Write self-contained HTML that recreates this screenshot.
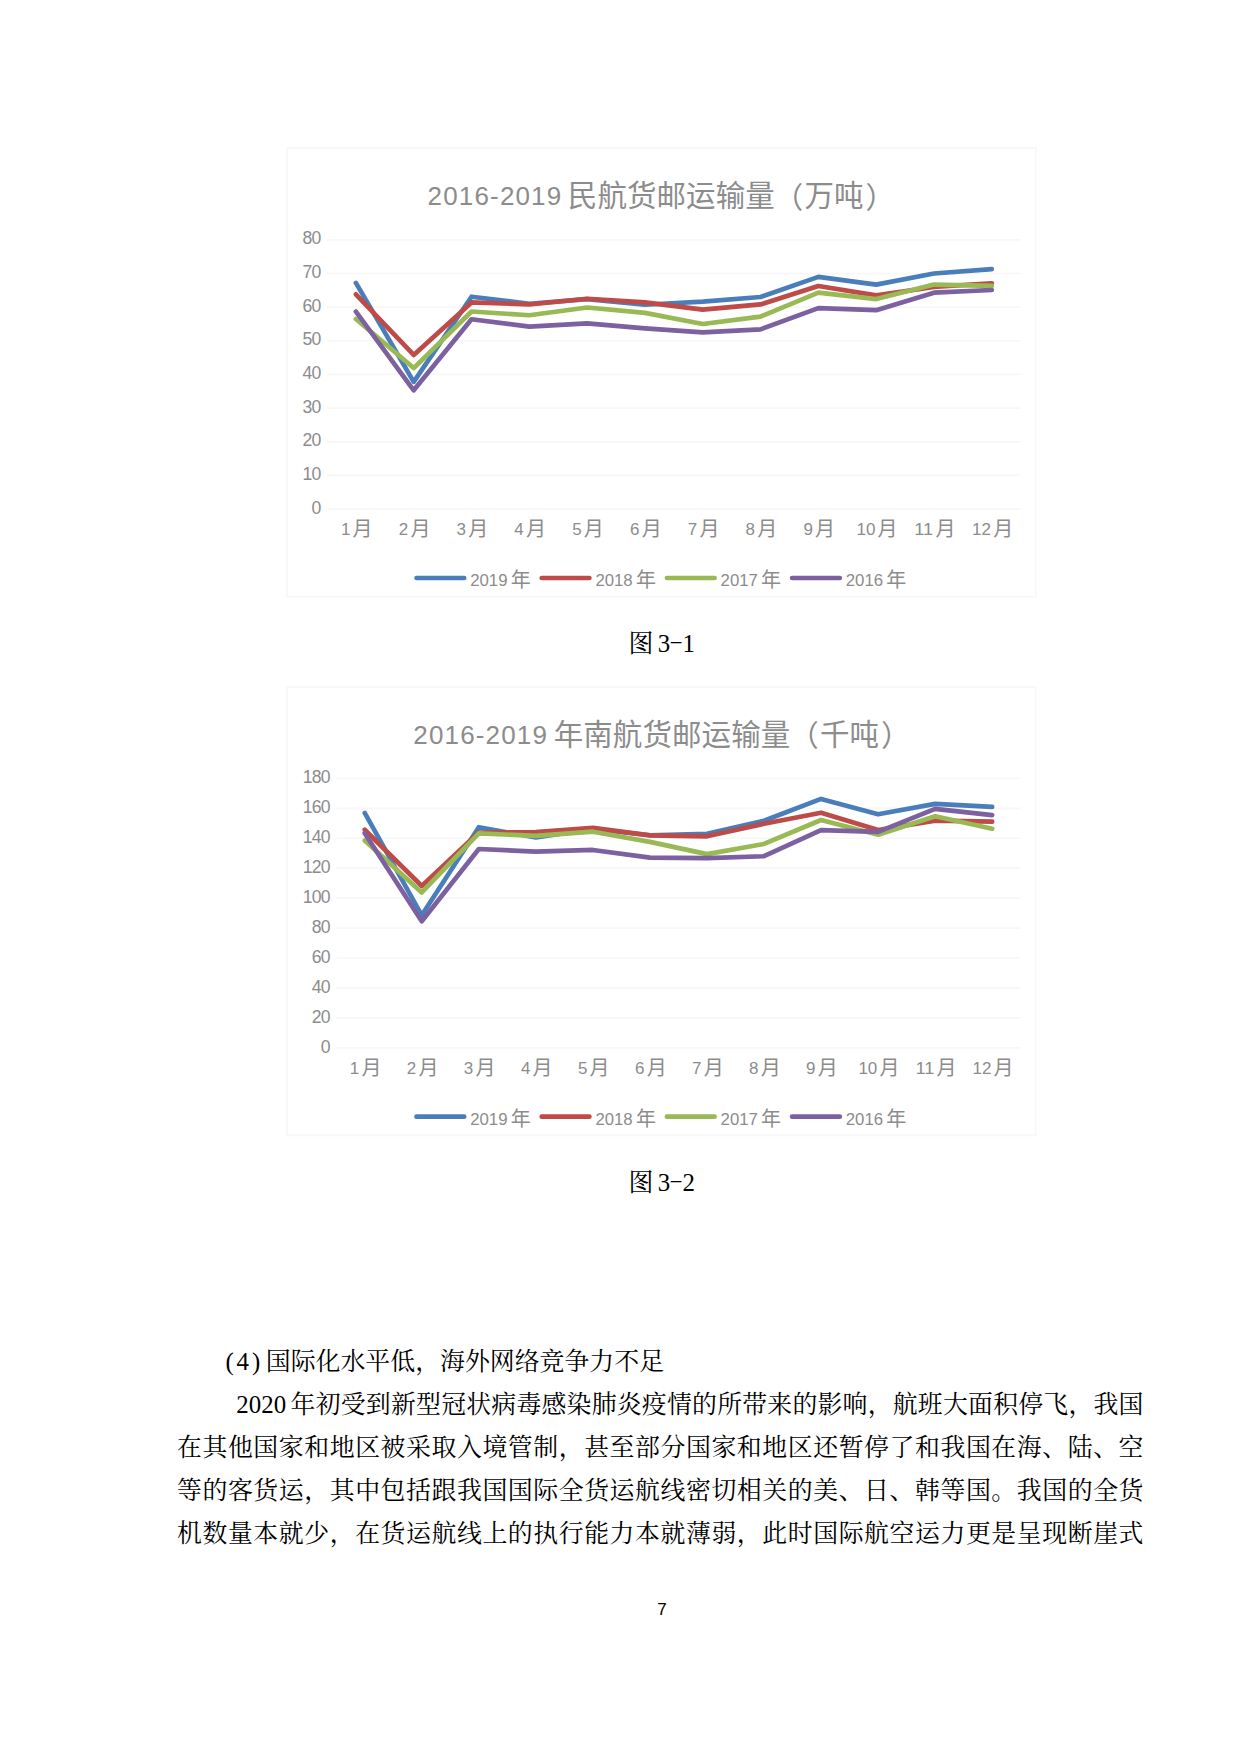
<!DOCTYPE html>
<html lang="zh-CN">
<head>
<meta charset="utf-8">
<title>2016-2019 民航货邮运输量</title>
<style>
html,body{margin:0;padding:0;background:#fff;}
body{width:1234px;height:1748px;position:relative;overflow:hidden;}
svg{position:absolute;left:0;top:0;}
.ax{font-family:"Liberation Sans", "Noto Sans CJK SC", sans-serif;font-size:17px;fill:#8c8c8c;}
.ay{letter-spacing:-0.8px;font-size:17.6px;}
.cj{font-family:"Liberation Sans", "Noto Sans CJK SC", sans-serif;font-size:20px;fill:#8c8c8c;}
.tl{font-family:"Liberation Sans", "Noto Sans CJK SC", sans-serif;font-size:26px;fill:#8c8c8c;}
.tc{font-family:"Liberation Sans", "Noto Sans CJK SC", sans-serif;font-size:29.5px;fill:#8c8c8c;}
.ln{position:absolute;height:40px;line-height:40px;font-family:"Liberation Serif", "Noto Serif CJK SC", serif;font-size:24.9px;color:#000;white-space:nowrap;}
.j{text-align:justify;text-align-last:justify;white-space:normal;}
.sp{display:inline-block;width:4.2px;white-space:pre;}
.hy{display:inline-block;width:12.45px;text-align:center;transform:translateY(-2.4px) scale(1.65,0.6);}
.hd{display:inline-block;width:40.4px;letter-spacing:2.9px;white-space:pre;}
.yr{display:inline-block;width:54.1px;white-space:pre;}
.pg{position:absolute;left:640px;width:44px;text-align:center;top:1595px;height:30px;line-height:30px;font-family:"Liberation Sans", "Noto Sans CJK SC", sans-serif;font-size:17px;color:#000;}
</style>
</head>
<body>
<svg width="1234" height="640" viewBox="0 0 1234 640" style="top:0">
<rect x="287.0" y="148.1" width="748.7" height="448.6" fill="#fff" stroke="#f8f8f8" stroke-width="2"/>
<line x1="327.0" y1="509.10" x2="1020.7" y2="509.10" stroke="#f7f7f7" stroke-width="1.7"/>
<line x1="327.0" y1="475.44" x2="1020.7" y2="475.44" stroke="#f7f7f7" stroke-width="1.7"/>
<line x1="327.0" y1="441.78" x2="1020.7" y2="441.78" stroke="#f7f7f7" stroke-width="1.7"/>
<line x1="327.0" y1="408.12" x2="1020.7" y2="408.12" stroke="#f7f7f7" stroke-width="1.7"/>
<line x1="327.0" y1="374.46" x2="1020.7" y2="374.46" stroke="#f7f7f7" stroke-width="1.7"/>
<line x1="327.0" y1="340.80" x2="1020.7" y2="340.80" stroke="#f7f7f7" stroke-width="1.7"/>
<line x1="327.0" y1="307.14" x2="1020.7" y2="307.14" stroke="#f7f7f7" stroke-width="1.7"/>
<line x1="327.0" y1="273.48" x2="1020.7" y2="273.48" stroke="#f7f7f7" stroke-width="1.7"/>
<line x1="327.0" y1="239.82" x2="1020.7" y2="239.82" stroke="#f7f7f7" stroke-width="1.7"/>
<text class="ax ay" x="320.6" y="513.60" text-anchor="end">0</text>
<text class="ax ay" x="320.6" y="479.94" text-anchor="end">10</text>
<text class="ax ay" x="320.6" y="446.28" text-anchor="end">20</text>
<text class="ax ay" x="320.6" y="412.62" text-anchor="end">30</text>
<text class="ax ay" x="320.6" y="378.96" text-anchor="end">40</text>
<text class="ax ay" x="320.6" y="345.30" text-anchor="end">50</text>
<text class="ax ay" x="320.6" y="311.64" text-anchor="end">60</text>
<text class="ax ay" x="320.6" y="277.98" text-anchor="end">70</text>
<text class="ax ay" x="320.6" y="244.32" text-anchor="end">80</text>
<text><tspan class="ax" x="340.94" y="535.30" textLength="9.46" lengthAdjust="spacingAndGlyphs">1</tspan><tspan class="cj" x="352.60" y="536.40">月</tspan></text>
<text><tspan class="ax" x="398.75" y="535.30" textLength="9.46" lengthAdjust="spacingAndGlyphs">2</tspan><tspan class="cj" x="410.41" y="536.40">月</tspan></text>
<text><tspan class="ax" x="456.56" y="535.30" textLength="9.46" lengthAdjust="spacingAndGlyphs">3</tspan><tspan class="cj" x="468.22" y="536.40">月</tspan></text>
<text><tspan class="ax" x="514.37" y="535.30" textLength="9.46" lengthAdjust="spacingAndGlyphs">4</tspan><tspan class="cj" x="526.03" y="536.40">月</tspan></text>
<text><tspan class="ax" x="572.18" y="535.30" textLength="9.46" lengthAdjust="spacingAndGlyphs">5</tspan><tspan class="cj" x="583.84" y="536.40">月</tspan></text>
<text><tspan class="ax" x="629.99" y="535.30" textLength="9.46" lengthAdjust="spacingAndGlyphs">6</tspan><tspan class="cj" x="641.65" y="536.40">月</tspan></text>
<text><tspan class="ax" x="687.79" y="535.30" textLength="9.46" lengthAdjust="spacingAndGlyphs">7</tspan><tspan class="cj" x="699.45" y="536.40">月</tspan></text>
<text><tspan class="ax" x="745.60" y="535.30" textLength="9.46" lengthAdjust="spacingAndGlyphs">8</tspan><tspan class="cj" x="757.26" y="536.40">月</tspan></text>
<text><tspan class="ax" x="803.41" y="535.30" textLength="9.46" lengthAdjust="spacingAndGlyphs">9</tspan><tspan class="cj" x="815.07" y="536.40">月</tspan></text>
<text><tspan class="ax" x="856.49" y="535.30" textLength="18.92" lengthAdjust="spacingAndGlyphs">10</tspan><tspan class="cj" x="877.61" y="536.40">月</tspan></text>
<text><tspan class="ax" x="914.30" y="535.30" textLength="18.92" lengthAdjust="spacingAndGlyphs">11</tspan><tspan class="cj" x="935.42" y="536.40">月</tspan></text>
<text><tspan class="ax" x="972.11" y="535.30" textLength="18.92" lengthAdjust="spacingAndGlyphs">12</tspan><tspan class="cj" x="993.23" y="536.40">月</tspan></text>
<polyline points="355.90,282.90 413.71,381.87 471.52,296.71 529.33,303.77 587.14,299.06 644.95,304.78 702.75,301.59 760.56,297.04 818.37,276.85 876.18,284.59 933.99,273.48 991.80,269.10" fill="none" stroke="#4a7ebb" stroke-width="4.67" stroke-linecap="round" stroke-linejoin="round"/>
<polyline points="355.90,294.35 413.71,354.94 471.52,302.43 529.33,304.45 587.14,298.73 644.95,302.43 702.75,309.66 760.56,304.45 818.37,285.93 876.18,295.36 933.99,286.94 991.80,283.24" fill="none" stroke="#be4b48" stroke-width="4.67" stroke-linecap="round" stroke-linejoin="round"/>
<polyline points="355.90,318.92 413.71,368.06 471.52,311.52 529.33,315.22 587.14,307.48 644.95,312.86 702.75,323.97 760.56,316.56 818.37,292.67 876.18,299.06 933.99,284.59 991.80,285.93" fill="none" stroke="#98b954" stroke-width="4.67" stroke-linecap="round" stroke-linejoin="round"/>
<polyline points="355.90,311.52 413.71,390.28 471.52,319.26 529.33,326.66 587.14,323.30 644.95,328.35 702.75,332.39 760.56,329.36 818.37,308.15 876.18,310.17 933.99,292.67 991.80,289.97" fill="none" stroke="#7d60a0" stroke-width="4.67" stroke-linecap="round" stroke-linejoin="round"/>
<text><tspan class="tl" x="427.6" y="205.0" textLength="133.6" lengthAdjust="spacing">2016-2019</tspan><tspan class="tl"> </tspan><tspan class="tc" x="567.80 597.38 626.96 656.54 686.12 715.70 745.28 773.66 804.44 834.02 865.40" y="206.4 206.4 206.4 206.4 206.4 206.4 206.4 207.6 206.4 206.4 207.6">民航货邮运输量（万吨）</tspan></text>
<line x1="416.5" y1="578.0" x2="464.2" y2="578.0" stroke="#4a7ebb" stroke-width="4.67" stroke-linecap="round"/>
<text><tspan class="ax" x="470.2" y="585.8" textLength="37.3" lengthAdjust="spacingAndGlyphs">2019</tspan><tspan class="cj" x="510.7" y="586.8">年</tspan></text>
<line x1="541.7" y1="578.0" x2="589.4" y2="578.0" stroke="#be4b48" stroke-width="4.67" stroke-linecap="round"/>
<text><tspan class="ax" x="595.4" y="585.8" textLength="37.3" lengthAdjust="spacingAndGlyphs">2018</tspan><tspan class="cj" x="635.9" y="586.8">年</tspan></text>
<line x1="666.9" y1="578.0" x2="714.6" y2="578.0" stroke="#98b954" stroke-width="4.67" stroke-linecap="round"/>
<text><tspan class="ax" x="720.6" y="585.8" textLength="37.3" lengthAdjust="spacingAndGlyphs">2017</tspan><tspan class="cj" x="761.1" y="586.8">年</tspan></text>
<line x1="792.1" y1="578.0" x2="839.8" y2="578.0" stroke="#7d60a0" stroke-width="4.67" stroke-linecap="round"/>
<text><tspan class="ax" x="845.8" y="585.8" textLength="37.3" lengthAdjust="spacingAndGlyphs">2016</tspan><tspan class="cj" x="886.3" y="586.8">年</tspan></text>
</svg>
<div class="ln" style="left:628.6px;top:624.3px">图<span class="sp"> </span>3<span class="hy">-</span>1</div>
<svg width="1234" height="560" viewBox="0 640 1234 560" style="top:640px">
<rect x="287.0" y="686.9" width="748.7" height="448.4" fill="#fff" stroke="#f8f8f8" stroke-width="2"/>
<line x1="336.2" y1="1047.80" x2="1020.7" y2="1047.80" stroke="#f7f7f7" stroke-width="1.7"/>
<line x1="336.2" y1="1017.87" x2="1020.7" y2="1017.87" stroke="#f7f7f7" stroke-width="1.7"/>
<line x1="336.2" y1="987.93" x2="1020.7" y2="987.93" stroke="#f7f7f7" stroke-width="1.7"/>
<line x1="336.2" y1="958.00" x2="1020.7" y2="958.00" stroke="#f7f7f7" stroke-width="1.7"/>
<line x1="336.2" y1="928.06" x2="1020.7" y2="928.06" stroke="#f7f7f7" stroke-width="1.7"/>
<line x1="336.2" y1="898.13" x2="1020.7" y2="898.13" stroke="#f7f7f7" stroke-width="1.7"/>
<line x1="336.2" y1="868.20" x2="1020.7" y2="868.20" stroke="#f7f7f7" stroke-width="1.7"/>
<line x1="336.2" y1="838.26" x2="1020.7" y2="838.26" stroke="#f7f7f7" stroke-width="1.7"/>
<line x1="336.2" y1="808.33" x2="1020.7" y2="808.33" stroke="#f7f7f7" stroke-width="1.7"/>
<line x1="336.2" y1="778.39" x2="1020.7" y2="778.39" stroke="#f7f7f7" stroke-width="1.7"/>
<text class="ax ay" x="329.8" y="1052.90" text-anchor="end">0</text>
<text class="ax ay" x="329.8" y="1022.97" text-anchor="end">20</text>
<text class="ax ay" x="329.8" y="993.03" text-anchor="end">40</text>
<text class="ax ay" x="329.8" y="963.10" text-anchor="end">60</text>
<text class="ax ay" x="329.8" y="933.16" text-anchor="end">80</text>
<text class="ax ay" x="329.8" y="903.23" text-anchor="end">100</text>
<text class="ax ay" x="329.8" y="873.30" text-anchor="end">120</text>
<text class="ax ay" x="329.8" y="843.36" text-anchor="end">140</text>
<text class="ax ay" x="329.8" y="813.43" text-anchor="end">160</text>
<text class="ax ay" x="329.8" y="783.49" text-anchor="end">180</text>
<text><tspan class="ax" x="349.76" y="1074.00" textLength="9.46" lengthAdjust="spacingAndGlyphs">1</tspan><tspan class="cj" x="361.42" y="1075.10">月</tspan></text>
<text><tspan class="ax" x="406.80" y="1074.00" textLength="9.46" lengthAdjust="spacingAndGlyphs">2</tspan><tspan class="cj" x="418.46" y="1075.10">月</tspan></text>
<text><tspan class="ax" x="463.84" y="1074.00" textLength="9.46" lengthAdjust="spacingAndGlyphs">3</tspan><tspan class="cj" x="475.50" y="1075.10">月</tspan></text>
<text><tspan class="ax" x="520.89" y="1074.00" textLength="9.46" lengthAdjust="spacingAndGlyphs">4</tspan><tspan class="cj" x="532.55" y="1075.10">月</tspan></text>
<text><tspan class="ax" x="577.93" y="1074.00" textLength="9.46" lengthAdjust="spacingAndGlyphs">5</tspan><tspan class="cj" x="589.59" y="1075.10">月</tspan></text>
<text><tspan class="ax" x="634.97" y="1074.00" textLength="9.46" lengthAdjust="spacingAndGlyphs">6</tspan><tspan class="cj" x="646.63" y="1075.10">月</tspan></text>
<text><tspan class="ax" x="692.01" y="1074.00" textLength="9.46" lengthAdjust="spacingAndGlyphs">7</tspan><tspan class="cj" x="703.67" y="1075.10">月</tspan></text>
<text><tspan class="ax" x="749.05" y="1074.00" textLength="9.46" lengthAdjust="spacingAndGlyphs">8</tspan><tspan class="cj" x="760.71" y="1075.10">月</tspan></text>
<text><tspan class="ax" x="806.09" y="1074.00" textLength="9.46" lengthAdjust="spacingAndGlyphs">9</tspan><tspan class="cj" x="817.75" y="1075.10">月</tspan></text>
<text><tspan class="ax" x="858.41" y="1074.00" textLength="18.92" lengthAdjust="spacingAndGlyphs">10</tspan><tspan class="cj" x="879.53" y="1075.10">月</tspan></text>
<text><tspan class="ax" x="915.45" y="1074.00" textLength="18.92" lengthAdjust="spacingAndGlyphs">11</tspan><tspan class="cj" x="936.57" y="1075.10">月</tspan></text>
<text><tspan class="ax" x="972.49" y="1074.00" textLength="18.92" lengthAdjust="spacingAndGlyphs">12</tspan><tspan class="cj" x="993.61" y="1075.10">月</tspan></text>
<polyline points="364.72,812.97 421.76,915.34 478.80,827.19 535.85,837.36 592.89,828.98 649.93,835.27 706.97,833.77 764.01,820.75 821.05,798.90 878.10,814.31 935.14,803.84 992.18,806.83" fill="none" stroke="#4a7ebb" stroke-width="4.67" stroke-linecap="round" stroke-linejoin="round"/>
<polyline points="364.72,829.73 421.76,886.01 478.80,832.57 535.85,832.13 592.89,827.93 649.93,835.42 706.97,836.32 764.01,823.74 821.05,812.67 878.10,830.03 935.14,820.60 992.18,821.65" fill="none" stroke="#be4b48" stroke-width="4.67" stroke-linecap="round" stroke-linejoin="round"/>
<polyline points="364.72,840.51 421.76,892.44 478.80,833.32 535.85,835.87 592.89,831.68 649.93,841.85 706.97,854.13 764.01,843.95 821.05,820.00 878.10,834.67 935.14,816.26 992.18,828.68" fill="none" stroke="#98b954" stroke-width="4.67" stroke-linecap="round" stroke-linejoin="round"/>
<polyline points="364.72,833.17 421.76,921.18 478.80,849.04 535.85,851.58 592.89,849.94 649.93,857.57 706.97,858.09 764.01,856.22 821.05,830.18 878.10,831.83 935.14,808.93 992.18,815.06" fill="none" stroke="#7d60a0" stroke-width="4.67" stroke-linecap="round" stroke-linejoin="round"/>
<text><tspan class="tl" x="413.3" y="743.6" textLength="133.6" lengthAdjust="spacing">2016-2019</tspan><tspan class="tl"> </tspan><tspan class="tc" x="553.70 583.28 612.86 642.44 672.02 701.60 731.18 760.76 789.14 819.92 849.50 880.88" y="745.0 745.0 745.0 745.0 745.0 745.0 745.0 745.0 746.2 745.0 745.0 746.2">年南航货邮运输量（千吨）</tspan></text>
<line x1="416.5" y1="1116.7" x2="464.2" y2="1116.7" stroke="#4a7ebb" stroke-width="4.67" stroke-linecap="round"/>
<text><tspan class="ax" x="470.2" y="1124.5" textLength="37.3" lengthAdjust="spacingAndGlyphs">2019</tspan><tspan class="cj" x="510.7" y="1125.5">年</tspan></text>
<line x1="541.7" y1="1116.7" x2="589.4" y2="1116.7" stroke="#be4b48" stroke-width="4.67" stroke-linecap="round"/>
<text><tspan class="ax" x="595.4" y="1124.5" textLength="37.3" lengthAdjust="spacingAndGlyphs">2018</tspan><tspan class="cj" x="635.9" y="1125.5">年</tspan></text>
<line x1="666.9" y1="1116.7" x2="714.6" y2="1116.7" stroke="#98b954" stroke-width="4.67" stroke-linecap="round"/>
<text><tspan class="ax" x="720.6" y="1124.5" textLength="37.3" lengthAdjust="spacingAndGlyphs">2017</tspan><tspan class="cj" x="761.1" y="1125.5">年</tspan></text>
<line x1="792.1" y1="1116.7" x2="839.8" y2="1116.7" stroke="#7d60a0" stroke-width="4.67" stroke-linecap="round"/>
<text><tspan class="ax" x="845.8" y="1124.5" textLength="37.3" lengthAdjust="spacingAndGlyphs">2016</tspan><tspan class="cj" x="886.3" y="1125.5">年</tspan></text>
</svg>
<div class="ln" style="left:628.6px;top:1163.0px">图<span class="sp"> </span>3<span class="hy">-</span>2</div>
<div class="ln" style="left:225.4px;top:1342.3px"><span class="hd">(4) </span>国际化水平低，海外网络竞争力不足</div>
<div class="ln j" style="left:236.3px;width:907.2px;top:1385.1px"><span class="yr">2020 </span>年初受到新型冠状病毒感染肺炎疫情的所带来的影响，航班大面积停飞，我国</div>
<div class="ln j" style="left:177.0px;width:966.5px;top:1427.9px">在其他国家和地区被采取入境管制，甚至部分国家和地区还暂停了和我国在海、陆、空</div>
<div class="ln j" style="left:177.0px;width:966.5px;top:1470.7px">等的客货运，其中包括跟我国国际全货运航线密切相关的美、日、韩等国。我国的全货</div>
<div class="ln j" style="left:177.0px;width:966.5px;top:1513.5px">机数量本就少，在货运航线上的执行能力本就薄弱，此时国际航空运力更是呈现断崖式</div>
<div class="pg">7</div>
</body>
</html>
